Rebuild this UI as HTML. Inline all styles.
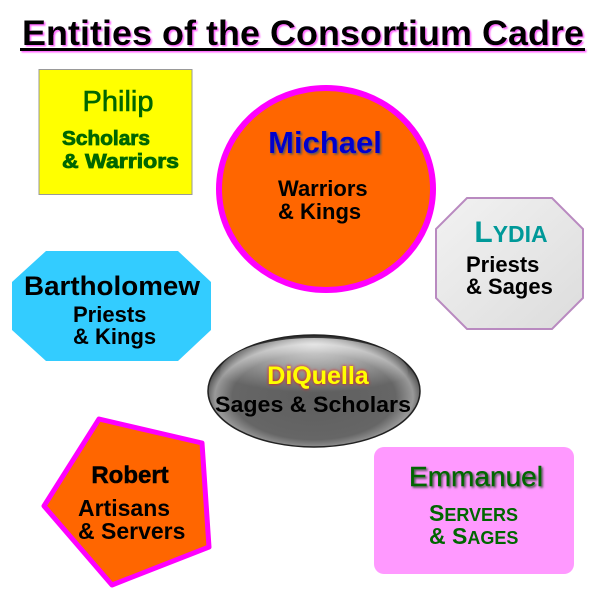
<!DOCTYPE html>
<html><head><meta charset="utf-8"><style>
html,body{margin:0;padding:0;background:#fff;}
svg{display:block;font-family:"Liberation Sans",sans-serif;}
</style></head><body>
<svg width="600" height="600" viewBox="0 0 600 600">
<defs>
<radialGradient id="dg" cx="0.5" cy="0.55" r="0.55">
<stop offset="0" stop-color="#5e5e5e"/><stop offset="0.7" stop-color="#666"/><stop offset="0.85" stop-color="#999"/><stop offset="0.95" stop-color="#444"/><stop offset="1" stop-color="#222"/>
</radialGradient>
<radialGradient id="hl" cx="0.5" cy="0.1" r="0.7">
<stop offset="0" stop-color="#fff" stop-opacity="0.75"/><stop offset="1" stop-color="#fff" stop-opacity="0"/>
</radialGradient>
<linearGradient id="lg" x1="0" y1="0" x2="1" y2="1">
<stop offset="0" stop-color="#f2f2f2"/><stop offset="1" stop-color="#dcdcdc"/>
</linearGradient>
<filter id="sh" x="-10%" y="-10%" width="130%" height="130%"><feDropShadow dx="1.5" dy="1.5" stdDeviation="0.8" flood-color="#ff66ff"/></filter>
<filter id="sh2" x="-10%" y="-10%" width="130%" height="130%"><feDropShadow dx="1.5" dy="1.5" stdDeviation="1" flood-color="#555"/></filter>
<filter id="glow" x="-10%" y="-20%" width="120%" height="140%"><feDropShadow dx="0" dy="0" stdDeviation="1.5" flood-color="#ff0000"/></filter>
</defs>
<g filter="url(#sh)">
<text x="303" y="45" font-size="35" font-weight="bold" text-anchor="middle" textLength="562" lengthAdjust="spacingAndGlyphs">Entities of the Consortium Cadre</text>
<rect x="20" y="48" width="565" height="3" fill="#000"/>
</g>
<rect x="39" y="69.5" width="153" height="125" fill="#ffff00" stroke="#999" stroke-width="1"/>
<text x="118" y="111" font-size="29" fill="#006600" text-anchor="middle" stroke="#006600" stroke-width="0.6">Philip</text>
<text x="62" y="145" font-size="20" font-weight="bold" fill="#006600" stroke="#006600" stroke-width="0.8" textLength="88" lengthAdjust="spacingAndGlyphs">Scholars</text>
<text x="62" y="168" font-size="20" font-weight="bold" fill="#006600" stroke="#006600" stroke-width="0.8" textLength="117" lengthAdjust="spacingAndGlyphs">&amp; Warriors</text>
<ellipse cx="326" cy="189" rx="107" ry="101" fill="#ff6600" stroke="#ff00ff" stroke-width="6"/>
<text x="325" y="153" font-size="31" font-weight="bold" fill="#0000cc" text-anchor="middle" filter="url(#sh2)">Michael</text>
<text x="278" y="196" font-size="22" font-weight="bold">Warriors</text>
<text x="278" y="219" font-size="22" font-weight="bold">&amp; Kings</text>
<polygon points="467,198 552,198 583,229 583,298 552,329 467,329 436,298 436,229" fill="url(#lg)" stroke="#b98ac0" stroke-width="2"/>
<text x="511" y="242" font-size="30" font-weight="bold" fill="#009999" text-anchor="middle">L<tspan font-size="23">YDIA</tspan></text>
<text x="466" y="272" font-size="22" font-weight="bold">Priests</text>
<text x="466" y="294" font-size="22" font-weight="bold">&amp; Sages</text>
<polygon points="46,251 178,251 211,282 211,330 178,361 46,361 12,330 12,282" fill="#33ccff"/>
<text x="112" y="295" font-size="27" font-weight="bold" text-anchor="middle" textLength="176" lengthAdjust="spacingAndGlyphs">Bartholomew</text>
<text x="73" y="322" font-size="22" font-weight="bold">Priests</text>
<text x="73" y="344" font-size="22" font-weight="bold">&amp; Kings</text>
<ellipse cx="314" cy="391" rx="106" ry="56" fill="url(#dg)" stroke="#222" stroke-width="1.5"/>
<ellipse cx="314" cy="372" rx="94" ry="34" fill="url(#hl)"/>
<text x="318" y="384" font-size="25" font-weight="bold" fill="#ffff00" text-anchor="middle" filter="url(#glow)">DiQuella</text>
<text x="313" y="412" font-size="22" font-weight="bold" text-anchor="middle" textLength="196" lengthAdjust="spacingAndGlyphs">Sages &amp; Scholars</text>
<polygon points="99,419 202,443 209,547 112,585 44,506" fill="#ff6600" stroke="#ff00ff" stroke-width="5" stroke-linejoin="round"/>
<text x="130" y="483" font-size="24" font-weight="bold" text-anchor="middle" stroke="#000" stroke-width="0.5">Robert</text>
<text x="78" y="516" font-size="23" font-weight="bold">Artisans</text>
<text x="78" y="539" font-size="23" font-weight="bold">&amp; Servers</text>
<rect x="374" y="447" width="200" height="127" rx="10" fill="#ff99ff"/>
<text x="476" y="486" font-size="28" fill="#006600" text-anchor="middle" filter="url(#sh2)" stroke="#006600" stroke-width="0.4" textLength="134" lengthAdjust="spacingAndGlyphs">Emmanuel</text>
<text x="429" y="521" font-size="23" font-weight="bold" fill="#006600">S<tspan font-size="18">ERVERS</tspan></text>
<text x="429" y="544" font-size="23" font-weight="bold" fill="#006600">&amp; S<tspan font-size="18">AGES</tspan></text>
</svg>
</body></html>
